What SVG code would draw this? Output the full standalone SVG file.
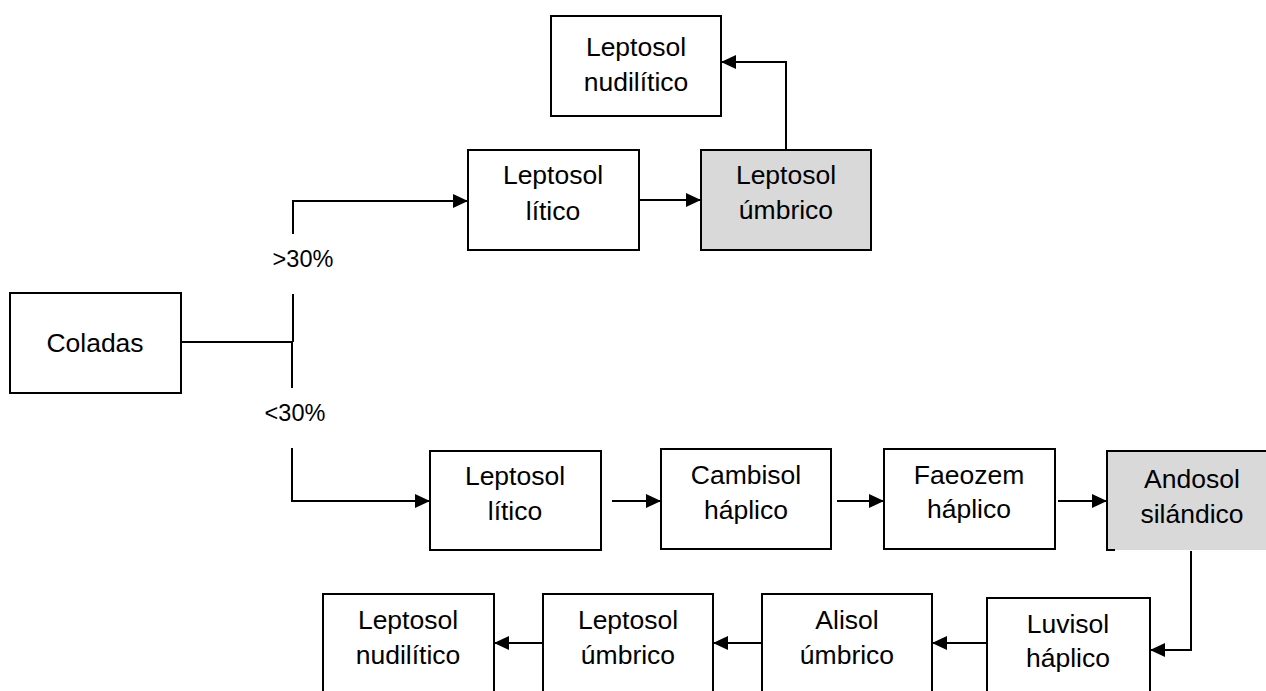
<svg xmlns="http://www.w3.org/2000/svg" width="1266" height="691" viewBox="0 0 1266 691">
  <style>
    .box { fill: #ffffff; stroke: #000000; stroke-width: 2; }
    .shaded { fill: #d9d9d9; stroke: #000000; stroke-width: 2; }
    .lbl { font-family: "Liberation Sans", Arial, sans-serif; font-size: 26.5px; fill: #000000; text-anchor: middle; }
    .pct { font-family: "Liberation Sans", Arial, sans-serif; font-size: 23.5px; fill: #000000; text-anchor: middle; }
    .wire { fill: none; stroke: #000000; stroke-width: 2; }
    .arrow { fill: none; stroke: #000000; stroke-width: 2; marker-end: url(#head); }
  </style>
  <defs>
    <marker id="head" markerUnits="userSpaceOnUse" markerWidth="16" markerHeight="16" viewBox="0 0 16 16" refX="15" refY="8" orient="auto">
      <path d="M0,1 L15,8 L0,15 Z" fill="#000000"/>
    </marker>
  </defs>

  <rect width="1266" height="691" fill="#ffffff"/>

  <!-- connectors -->
  <g id="connectors">
    <!-- Coladas branch -->
    <path class="wire" d="M181,342 H293"/>
    <path class="wire" d="M293,342 V294"/>
    <path class="arrow" d="M293,234 V201 H468"/>
    <path class="wire" d="M292,342 V388"/>
    <path class="arrow" d="M292,448 V501 H430"/>
    <!-- upper chain -->
    <path class="arrow" d="M639,200 H701"/>
    <path class="arrow" d="M786,150 V62 H721"/>
    <!-- lower chain -->
    <path class="arrow" d="M612,501 H661"/>
    <path class="arrow" d="M837,501 H884"/>
    <path class="arrow" d="M1058,501 H1107"/>
    <path class="arrow" d="M1191,551 V650 H1150"/>
    <path class="arrow" d="M987,643 H932"/>
    <path class="arrow" d="M762,643 H713"/>
    <path class="arrow" d="M543,643 H494"/>
  </g>

  <!-- slope labels -->
  <text class="pct" x="303" y="267">&gt;30%</text>
  <text class="pct" x="295" y="421">&lt;30%</text>

  <g id="coladas">
    <rect class="box" x="10" y="293" width="171" height="100"/>
    <text class="lbl" x="95" y="352">Coladas</text>
  </g>

  <g id="leptosol-nudilitico-top">
    <rect class="box" x="551" y="16" width="170" height="100"/>
    <text class="lbl" x="636" y="56">Leptosol</text>
    <text class="lbl" x="636" y="91">nudilítico</text>
  </g>

  <g id="leptosol-litico-top">
    <rect class="box" x="468" y="150" width="171" height="100"/>
    <text class="lbl" x="553" y="184">Leptosol</text>
    <text class="lbl" x="553" y="220">lítico</text>
  </g>

  <g id="leptosol-umbrico-top">
    <rect class="shaded" x="701" y="150" width="170" height="100"/>
    <text class="lbl" x="786" y="184">Leptosol</text>
    <text class="lbl" x="786" y="219">úmbrico</text>
  </g>

  <g id="leptosol-litico-bottom">
    <rect class="box" x="430" y="451" width="171" height="99"/>
    <text class="lbl" x="515" y="485">Leptosol</text>
    <text class="lbl" x="515" y="520">lítico</text>
  </g>

  <g id="cambisol-haplico">
    <rect class="box" x="661" y="449" width="170" height="100"/>
    <text class="lbl" x="746" y="484">Cambisol</text>
    <text class="lbl" x="746" y="519">háplico</text>
  </g>

  <g id="faeozem-haplico">
    <rect class="box" x="884" y="449" width="171" height="100"/>
    <text class="lbl" x="969" y="484">Faeozem</text>
    <text class="lbl" x="969" y="518">háplico</text>
  </g>

  <g id="andosol-silandico">
    <rect x="1107" y="451" width="170" height="99" fill="#d9d9d9"/>
    <path class="wire" d="M1276,451 H1107 V550 H1115"/>
    <text class="lbl" x="1192" y="488">Andosol</text>
    <text class="lbl" x="1192" y="523">silándico</text>
  </g>

  <g id="luvisol-haplico">
    <rect class="box" x="987" y="598" width="163" height="100"/>
    <text class="lbl" x="1068" y="633">Luvisol</text>
    <text class="lbl" x="1068" y="667">háplico</text>
  </g>

  <g id="alisol-umbrico">
    <rect class="box" x="762" y="594" width="170" height="100"/>
    <text class="lbl" x="847" y="629">Alisol</text>
    <text class="lbl" x="847" y="664">úmbrico</text>
  </g>

  <g id="leptosol-umbrico-bottom">
    <rect class="box" x="543" y="594" width="170" height="100"/>
    <text class="lbl" x="628" y="629">Leptosol</text>
    <text class="lbl" x="628" y="664">úmbrico</text>
  </g>

  <g id="leptosol-nudilitico-bottom">
    <rect class="box" x="323" y="594" width="171" height="100"/>
    <text class="lbl" x="408" y="629">Leptosol</text>
    <text class="lbl" x="408" y="664">nudilítico</text>
  </g>
</svg>
